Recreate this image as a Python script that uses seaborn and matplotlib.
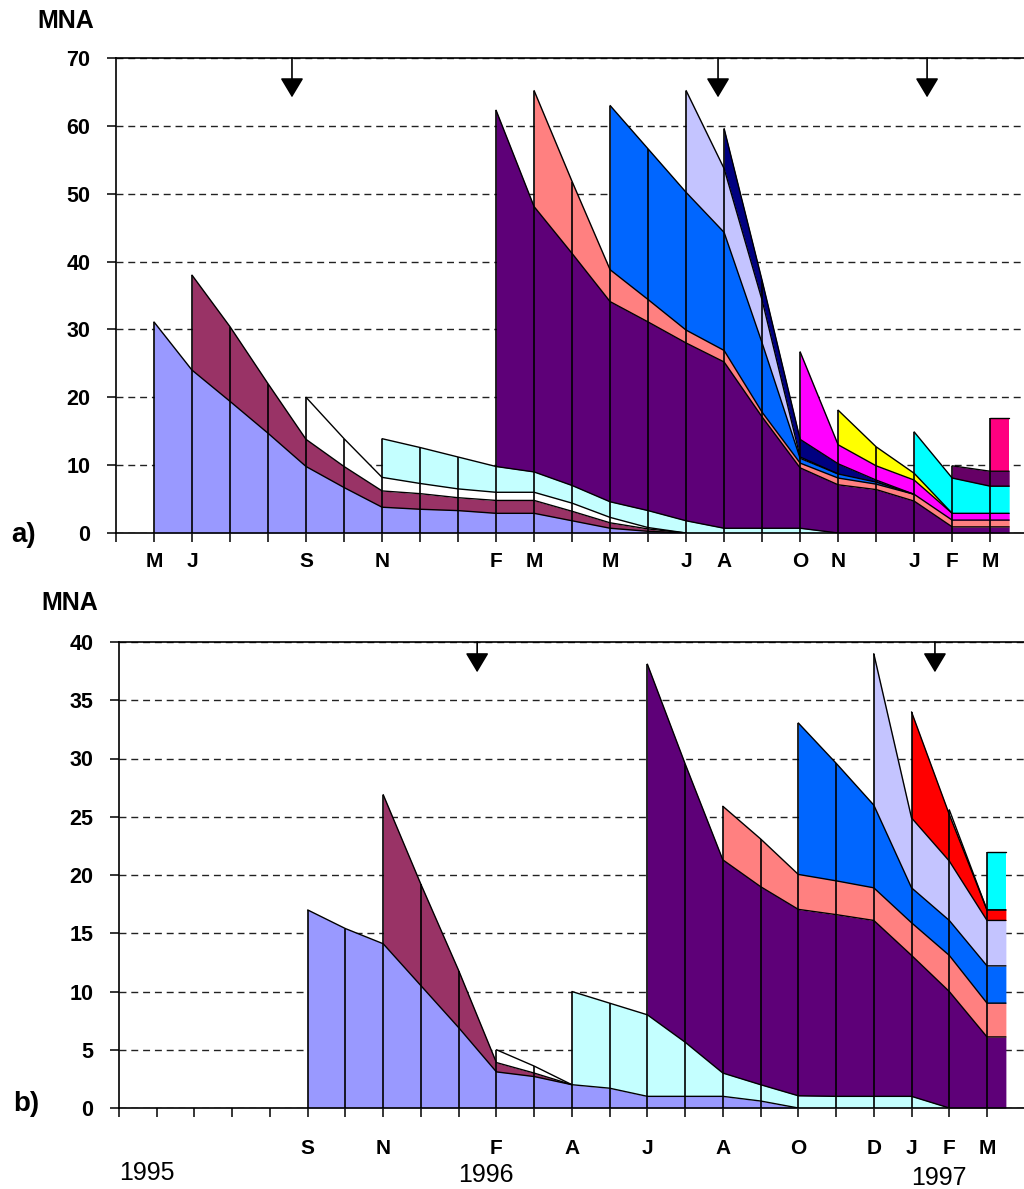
import numpy as np
import pandas as pd
import matplotlib
matplotlib.use("Agg")
import matplotlib.pyplot as plt
import seaborn as sns

sns.set_theme(style="ticks")
plt.rcParams['font.family'] = ['Liberation Sans', 'DejaVu Sans']

N_SLOTS = 24

# ---------------- data ----------------
months_a = ["", "M", "J", "", "", "S", "", "N", "", "", "F", "M", "", "M", "", "J",
            "A", "", "O", "N", "", "J", "F", "M"]
months_b = ["", "", "", "", "", "S", "", "N", "", "", "F", "", "A", "", "J", "",
            "A", "", "O", "", "D", "J", "F", "M"]
years_b = ["1995", "1996", "1997"]

# panel a: cohorts (start slot, MNA values from that slot on)
a_starts = [1, 2, 5, 7, 10, 11, 13, 15, 16, 18, 19, 21, 22, 23]
a_c01 = [31.1, 24.0, 19.4, 14.7, 9.8, 6.7, 3.8, 3.5, 3.3, 2.9, 2.9, 1.8, 0.7, 0.25, 0]
a_c02 = [14.0, 11.0, 7.3, 4.0, 3.1, 2.4, 2.3, 1.9, 1.9, 1.9, 1.4, 0.8, 0.35, 0]
a_c03 = [6.2, 4.1, 2.0, 1.5, 1.3, 1.2, 1.2, 1.2, 0.8, 0.2, 0]
a_c04 = [5.7, 5.3, 4.7, 3.8, 3.0, 2.6, 2.3, 2.5, 1.8, 0.7, 0.7, 0.7, 0]
a_c05 = [52.5, 39.1, 34.2, 29.5, 27.8, 26.2, 24.5, 16.4, 8.9, 7.1, 6.4, 4.7, 0.9, 0.9]
a_c06 = [17.1, 10.6, 4.7, 3.3, 1.9, 1.7, 0.7, 0.7, 1.0, 0.8, 1.0, 1.0, 1.0]
a_c07 = [24.2, 22.2, 20.3, 17.4, 10.2, 0.7, 0.6, 0.3, 0]
a_c08 = [15.0, 9.4, 6.3, 0.2, 0]
a_c09 = [5.9, 2.9, 2.6, 1.5, 0.3, 0]
a_c10 = [12.9, 2.8, 2.1, 2.1, 1.0, 1.0]
a_c11 = [5.1, 2.8, 1.0, 0]
a_c12 = [6.1, 5.2, 4.0]
a_c13 = [1.8, 2.2]
a_c14 = [7.8]
a_colors = ["#9999FF", "#993366", "#FFFFFF", "#C4FFFF", "#5E0078", "#FF8080",
            "#0066FF", "#C4C4FF", "#000080", "#FF00FF", "#FFFF00", "#00FFFF",
            "#660066", "#FF0080"]
a_arrows = [4.63, 15.84, 21.34]

# panel b
b_starts = [5, 7, 10, 12, 14, 16, 18, 20, 21, 22, 23]
b_c01 = [17.0, 15.4, 14.1, 10.5, 6.9, 3.1, 2.7, 2.0, 1.7, 1.0, 1.0, 1.0, 0.6, 0]
b_c02 = [12.8, 8.7, 4.9, 0.8, 0.3, 0]
b_c03 = [1.1, 0.6, 0]
b_c04 = [8.0, 7.3, 7.0, 4.65, 2.0, 1.4, 1.05, 1.0, 1.0, 1.0, 0]
b_c05 = [30.1, 23.9, 18.3, 17.0, 16.0, 15.6, 15.1, 12.1, 10.0, 6.1]
b_c06 = [4.6, 4.1, 3.0, 2.9, 2.8, 2.8, 3.1, 2.9]
b_c07 = [13.0, 10.1, 7.1, 3.0, 3.0, 3.2]
b_c08 = [13.0, 6.0, 5.1, 3.9]
b_c09 = [9.1, 4.0, 0.9]
b_c10 = [0.4, 0]
b_c11 = [5.0]
b_colors = ["#9999FF", "#993366", "#FFFFFF", "#C4FFFF", "#5E0078", "#FF8080",
            "#0066FF", "#C4C4FF", "#FF0000", "#FFFFFF", "#00FFFF"]
b_arrows = [9.49, 21.62]

a_series = [a_c01, a_c02, a_c03, a_c04, a_c05, a_c06, a_c07, a_c08, a_c09,
            a_c10, a_c11, a_c12, a_c13, a_c14]
b_series = [b_c01, b_c02, b_c03, b_c04, b_c05, b_c06, b_c07, b_c08, b_c09,
            b_c10, b_c11]

# ---------------- figure ----------------
W, H = 1024, 1189
fig = plt.figure(figsize=(W / 100, H / 100), dpi=100)


def px_box(left, top, bottom):
    return [left / W, 1 - bottom / H, 1 - left / W, (bottom - top) / H]


def draw_panel(ax, starts, series, colors, ymax, ystep, xmax, labels, arrows, arrow_len):
    cum_prev = np.zeros(N_SLOTS)
    rows = []
    for k, (start, vals, col) in enumerate(zip(starts, series, colors)):
        v = np.zeros(N_SLOTS)
        v[start:start + len(vals)] = vals
        cum = cum_prev + v
        end = start + len(vals) - 1
        x = list(range(start, end + 1))
        lo = list(cum_prev[start:end + 1])
        hi = list(cum[start:end + 1])
        if end == N_SLOTS - 1:
            x.append(end + 0.5)
            lo.append(lo[-1])
            hi.append(hi[-1])
        ax.fill_between(x, lo, hi, color=col, lw=0, zorder=2)
        for xi, yi in zip(x, hi):
            rows.append({"x": xi, "top": yi, "cohort": k})
        cum_prev = cum
    edges = pd.DataFrame(rows)
    sns.lineplot(data=edges, x="x", y="top", units="cohort", estimator=None,
                 sort=False, color="black", lw=1.0, ax=ax, zorder=3, legend=False)
    first = min(starts)
    slots = np.arange(first, N_SLOTS)
    ax.vlines(slots, 0, cum_prev[slots], color="black", lw=1.2, zorder=4)

    for xa in arrows:
        ax.annotate("", xy=(xa, ymax - arrow_len), xytext=(xa, ymax),
                    xycoords="data", textcoords="data", annotation_clip=False,
                    arrowprops=dict(arrowstyle="-|>,head_length=0.75,head_width=0.45",
                                    mutation_scale=16, color="black", lw=1.2,
                                    shrinkA=0, shrinkB=0), zorder=5)

    ax.set_xlim(0, xmax)
    ax.set_ylim(0, ymax)
    ax.set_yticks(np.arange(0, ymax + 0.1, ystep))
    ax.set_yticklabels([f"{int(t)}" for t in np.arange(0, ymax + 0.1, ystep)],
                       fontsize=15.5, fontweight="bold")
    ax.set_xticks(np.arange(N_SLOTS))
    ax.set_xticklabels(labels, fontsize=15, fontweight="bold")
    ax.set_xlabel("")
    ax.set_ylabel("")
    ax.yaxis.grid(True, linestyle=(0, (5, 3.5)), color="#222222", lw=1.0, zorder=0.5)
    ax.xaxis.grid(False)
    ax.set_axisbelow(True)
    for s in ["left", "bottom", "top"]:
        ax.spines[s].set_visible(True)
        ax.spines[s].set_color("black")
        ax.spines[s].set_linewidth(1.2)
    ax.spines["right"].set_visible(False)
    ax.tick_params(axis="both", direction="out", length=6.5, width=1.1, colors="black")
    ax.tick_params(axis="y", pad=12)
    ax.set_facecolor("white")


ax_a = fig.add_axes(px_box(116, 58, 533))
draw_panel(ax_a, a_starts, a_series, a_colors, 70, 10, 23.89, months_a, a_arrows, 5.8)
ax_a.tick_params(axis="x", pad=7)

ax_b = fig.add_axes(px_box(119, 642, 1108))
draw_panel(ax_b, b_starts, b_series, b_colors, 40, 5, 23.98, months_b, b_arrows, 2.6)
ax_b.tick_params(axis="x", pad=16)

# texts
def ftext(xp, yp, s, **kw):
    fig.text(xp / W, 1 - yp / H, s, ha="center", va="center", color="black", **kw)

ftext(66, 21, "MNA", fontsize=18, fontweight="bold")
ftext(70, 603, "MNA", fontsize=18, fontweight="bold")
ftext(24, 535, "a)", fontsize=20, fontweight="bold")
ftext(26, 1104, "b)", fontsize=20, fontweight="bold")
for (xp, yp), s in zip([(147, 1173), (486, 1175), (939, 1178)], years_b):
    ftext(xp, yp, s, fontsize=18)

fig.savefig("out.png", dpi=100, facecolor="white")
